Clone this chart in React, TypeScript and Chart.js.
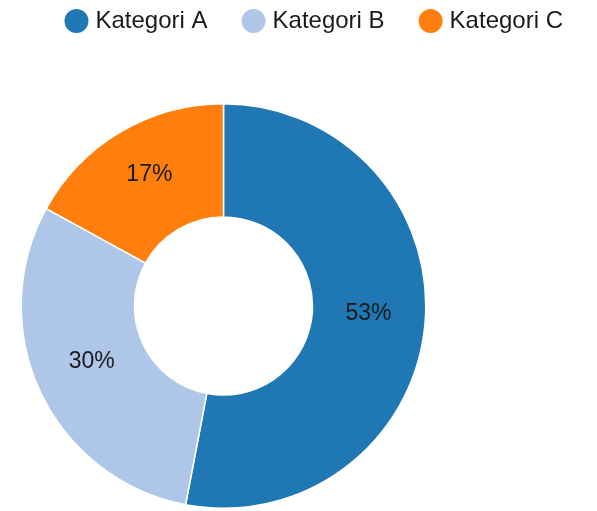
import React, { useEffect, useRef } from "react";
import { Chart, registerables } from "chart.js";

Chart.register(...registerables);

const categories = ["Kategori A", "Kategori B", "Kategori C"];
const values = [53, 30, 17];
const colors = ["#1f77b4", "#aec7e8", "#ff7f0e"];

const FONT = "'Liberation Sans', Arial, Helvetica, sans-serif";

const areaPlugin = {
  id: "fixArea",
  afterLayout(chart: any) {
    const a = chart.chartArea;
    a.left = 20;
    a.right = 427;
    a.top = 103;
    a.bottom = 509;
    a.width = a.right - a.left;
    a.height = a.bottom - a.top;
  },
};

const percentPlugin = {
  id: "percentLabels",
  afterDatasetsDraw(chart: any) {
    const ctx = chart.ctx;
    const meta = chart.getDatasetMeta(0);
    const data = chart.data.datasets[0].data as number[];
    const total = data.reduce((s, v) => s + v, 0);
    ctx.save();
    ctx.font = `23px ${FONT}`;
    ctx.fillStyle = "#1a1a1a";
    ctx.textAlign = "center";
    ctx.textBaseline = "alphabetic";
    meta.data.forEach((arc: any, i: number) => {
      const p = arc.getCenterPoint();
      const pct = Math.round((data[i] / total) * 100);
      ctx.fillText(pct + "%", p.x, p.y);
    });
    ctx.restore();
  },
};

export default function App() {
  const ref = useRef<HTMLCanvasElement>(null);
  useEffect(() => {
    document.body.style.margin = "0";
    const chart = new Chart(ref.current as HTMLCanvasElement, {
      type: "doughnut",
      data: {
        labels: categories,
        datasets: [
          {
            data: values,
            backgroundColor: colors,
            borderColor: "#ffffff",
            borderWidth: 1.5,
          },
        ],
      },
      options: {
        responsive: false,
        animation: false,
        cutout: "44%",
        layout: { padding: { top: -30, left: 0, right: -5, bottom: 0 } },
        plugins: {
          tooltip: { enabled: false },
          legend: {
            position: "top",
            align: "end",
            labels: {
              usePointStyle: true,
              pointStyle: "circle",
              boxWidth: 14,
              boxHeight: 18,
              padding: 39,
              color: "#1a1a1a",
              font: { family: FONT, size: 24 },
            },
          },
        },
      },
      plugins: [areaPlugin, percentPlugin],
    });
    return () => chart.destroy();
  }, []);
  return <canvas ref={ref} width={597} height={511} style={{ display: "block" }} />;
}
